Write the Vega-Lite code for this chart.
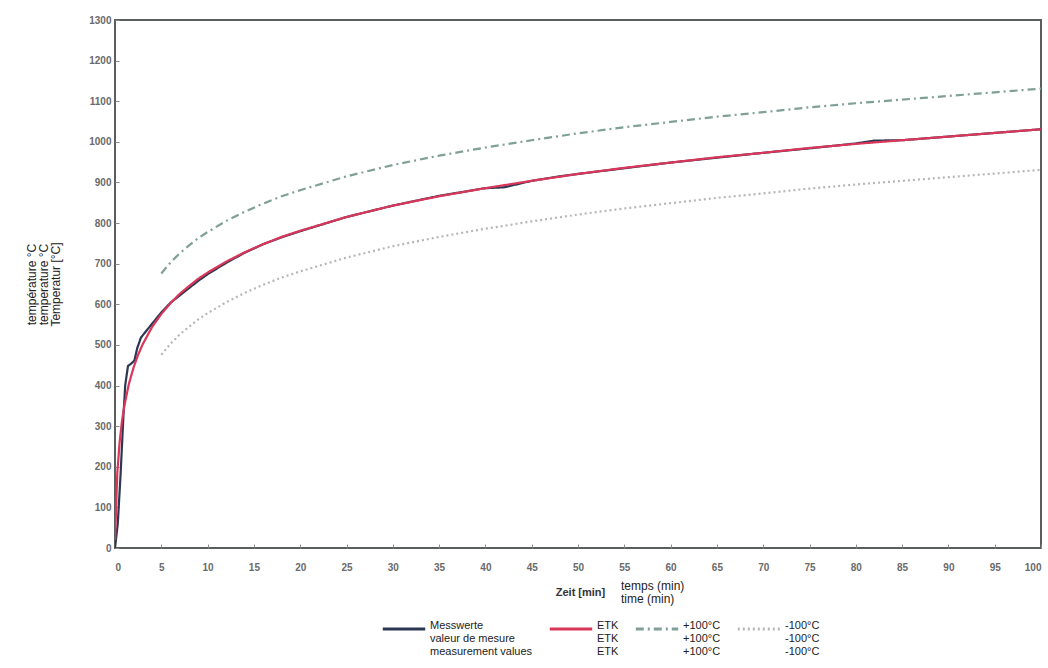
{
  "$schema": "https://vega.github.io/schema/vega-lite/v6.json",
  "autosize": {"type": "none"},
  "width": 926,
  "height": 528,
  "padding": {"left": 115, "top": 20, "right": 7, "bottom": 120},
  "background": "white",
  "config": {
    "font": "Liberation Sans",
    "view": {"stroke": "#5a5f5c", "strokeWidth": 2},
    "axis": {"grid": false, "domain": false, "labelFont": "Liberation Sans", "labelFontWeight": "bold", "labelColor": "#6a6a6a", "labelFontSize": 10, "tickColor": "#8a8a8a", "tickSize": -4}
  },
  "title": {
    "text": ["temps (min)", "time (min)"],
    "orient": "top",
    "anchor": "start",
    "frame": "group",
    "dx": 506,
    "dy": 595,
    "fontSize": 12,
    "fontWeight": "normal",
    "color": "#222",
    "font": "Liberation Sans",
    "lineHeight": 13
  },
  "datasets": {
    "curves": [
      {"s": "Messwerte", "t": 0, "v": 0},
      {"s": "Messwerte", "t": 0.3, "v": 60},
      {"s": "Messwerte", "t": 0.6, "v": 180},
      {"s": "Messwerte", "t": 0.9, "v": 320},
      {"s": "Messwerte", "t": 1.1, "v": 400},
      {"s": "Messwerte", "t": 1.4, "v": 448},
      {"s": "Messwerte", "t": 1.8, "v": 455},
      {"s": "Messwerte", "t": 2.1, "v": 462},
      {"s": "Messwerte", "t": 2.4, "v": 492},
      {"s": "Messwerte", "t": 2.8, "v": 518},
      {"s": "Messwerte", "t": 3.5, "v": 538},
      {"s": "Messwerte", "t": 4, "v": 552},
      {"s": "Messwerte", "t": 5, "v": 580},
      {"s": "Messwerte", "t": 6, "v": 604},
      {"s": "Messwerte", "t": 7, "v": 622},
      {"s": "Messwerte", "t": 8, "v": 640},
      {"s": "Messwerte", "t": 9, "v": 658},
      {"s": "Messwerte", "t": 10, "v": 674},
      {"s": "Messwerte", "t": 12, "v": 702},
      {"s": "Messwerte", "t": 14, "v": 727},
      {"s": "Messwerte", "t": 16, "v": 748},
      {"s": "Messwerte", "t": 18, "v": 765},
      {"s": "Messwerte", "t": 20, "v": 780},
      {"s": "Messwerte", "t": 25, "v": 815},
      {"s": "Messwerte", "t": 30, "v": 843},
      {"s": "Messwerte", "t": 35, "v": 867},
      {"s": "Messwerte", "t": 40, "v": 886},
      {"s": "Messwerte", "t": 42, "v": 888},
      {"s": "Messwerte", "t": 45, "v": 904},
      {"s": "Messwerte", "t": 48, "v": 915},
      {"s": "Messwerte", "t": 50, "v": 921},
      {"s": "Messwerte", "t": 55, "v": 935},
      {"s": "Messwerte", "t": 60, "v": 949},
      {"s": "Messwerte", "t": 65, "v": 961},
      {"s": "Messwerte", "t": 70, "v": 973},
      {"s": "Messwerte", "t": 75, "v": 984},
      {"s": "Messwerte", "t": 80, "v": 996},
      {"s": "Messwerte", "t": 82, "v": 1003},
      {"s": "Messwerte", "t": 85, "v": 1004},
      {"s": "Messwerte", "t": 90, "v": 1013},
      {"s": "Messwerte", "t": 95, "v": 1022},
      {"s": "Messwerte", "t": 100, "v": 1031},

      {"s": "ETK", "t": 0, "v": 20},
      {"s": "ETK", "t": 0.25, "v": 185},
      {"s": "ETK", "t": 0.5, "v": 261},
      {"s": "ETK", "t": 0.75, "v": 312},
      {"s": "ETK", "t": 1, "v": 349},
      {"s": "ETK", "t": 1.5, "v": 404},
      {"s": "ETK", "t": 2, "v": 444},
      {"s": "ETK", "t": 2.5, "v": 476},
      {"s": "ETK", "t": 3, "v": 502},
      {"s": "ETK", "t": 4, "v": 544},
      {"s": "ETK", "t": 5, "v": 576},
      {"s": "ETK", "t": 6, "v": 603},
      {"s": "ETK", "t": 7, "v": 626},
      {"s": "ETK", "t": 8, "v": 645},
      {"s": "ETK", "t": 9, "v": 663},
      {"s": "ETK", "t": 10, "v": 678},
      {"s": "ETK", "t": 12, "v": 705},
      {"s": "ETK", "t": 14, "v": 728},
      {"s": "ETK", "t": 16, "v": 748},
      {"s": "ETK", "t": 18, "v": 766},
      {"s": "ETK", "t": 20, "v": 781},
      {"s": "ETK", "t": 25, "v": 815},
      {"s": "ETK", "t": 30, "v": 843},
      {"s": "ETK", "t": 35, "v": 866},
      {"s": "ETK", "t": 40, "v": 886},
      {"s": "ETK", "t": 45, "v": 904},
      {"s": "ETK", "t": 50, "v": 921},
      {"s": "ETK", "t": 55, "v": 936},
      {"s": "ETK", "t": 60, "v": 949},
      {"s": "ETK", "t": 65, "v": 962},
      {"s": "ETK", "t": 70, "v": 973},
      {"s": "ETK", "t": 75, "v": 985},
      {"s": "ETK", "t": 80, "v": 995},
      {"s": "ETK", "t": 85, "v": 1004},
      {"s": "ETK", "t": 90, "v": 1013},
      {"s": "ETK", "t": 95, "v": 1022},
      {"s": "ETK", "t": 100, "v": 1031},

      {"s": "+100°C", "t": 5, "v": 676},
      {"s": "+100°C", "t": 6, "v": 703},
      {"s": "+100°C", "t": 7, "v": 726},
      {"s": "+100°C", "t": 8, "v": 745},
      {"s": "+100°C", "t": 9, "v": 763},
      {"s": "+100°C", "t": 10, "v": 778},
      {"s": "+100°C", "t": 12, "v": 805},
      {"s": "+100°C", "t": 14, "v": 828},
      {"s": "+100°C", "t": 16, "v": 848},
      {"s": "+100°C", "t": 18, "v": 866},
      {"s": "+100°C", "t": 20, "v": 881},
      {"s": "+100°C", "t": 25, "v": 915},
      {"s": "+100°C", "t": 30, "v": 943},
      {"s": "+100°C", "t": 35, "v": 966},
      {"s": "+100°C", "t": 40, "v": 986},
      {"s": "+100°C", "t": 45, "v": 1004},
      {"s": "+100°C", "t": 50, "v": 1021},
      {"s": "+100°C", "t": 55, "v": 1036},
      {"s": "+100°C", "t": 60, "v": 1049},
      {"s": "+100°C", "t": 65, "v": 1062},
      {"s": "+100°C", "t": 70, "v": 1073},
      {"s": "+100°C", "t": 75, "v": 1085},
      {"s": "+100°C", "t": 80, "v": 1095},
      {"s": "+100°C", "t": 85, "v": 1104},
      {"s": "+100°C", "t": 90, "v": 1113},
      {"s": "+100°C", "t": 95, "v": 1122},
      {"s": "+100°C", "t": 100, "v": 1131},

      {"s": "-100°C", "t": 5, "v": 476},
      {"s": "-100°C", "t": 6, "v": 503},
      {"s": "-100°C", "t": 7, "v": 526},
      {"s": "-100°C", "t": 8, "v": 545},
      {"s": "-100°C", "t": 9, "v": 563},
      {"s": "-100°C", "t": 10, "v": 578},
      {"s": "-100°C", "t": 12, "v": 605},
      {"s": "-100°C", "t": 14, "v": 628},
      {"s": "-100°C", "t": 16, "v": 648},
      {"s": "-100°C", "t": 18, "v": 666},
      {"s": "-100°C", "t": 20, "v": 681},
      {"s": "-100°C", "t": 25, "v": 715},
      {"s": "-100°C", "t": 30, "v": 743},
      {"s": "-100°C", "t": 35, "v": 766},
      {"s": "-100°C", "t": 40, "v": 786},
      {"s": "-100°C", "t": 45, "v": 804},
      {"s": "-100°C", "t": 50, "v": 821},
      {"s": "-100°C", "t": 55, "v": 836},
      {"s": "-100°C", "t": 60, "v": 849},
      {"s": "-100°C", "t": 65, "v": 862},
      {"s": "-100°C", "t": 70, "v": 873},
      {"s": "-100°C", "t": 75, "v": 885},
      {"s": "-100°C", "t": 80, "v": 895},
      {"s": "-100°C", "t": 85, "v": 904},
      {"s": "-100°C", "t": 90, "v": 913},
      {"s": "-100°C", "t": 95, "v": 922},
      {"s": "-100°C", "t": 100, "v": 931}
    ]
  },
  "data": {"name": "curves"},
  "mark": {"type": "line", "strokeWidth": 2.2, "clip": true},
  "encoding": {
    "x": {
      "field": "t", "type": "quantitative",
      "scale": {"domain": [0, 100], "nice": false},
      "axis": {"values": [0,5,10,15,20,25,30,35,40,45,50,55,60,65,70,75,80,85,90,95,100], "title": "Zeit [min]", "titleFontWeight": "bold", "titleFontSize": 11, "titleColor": "#333", "titlePadding": 14, "titleX": 465, "titleAlign": "center", "labelPadding": 18}
    },
    "y": {
      "field": "v", "type": "quantitative",
      "scale": {"domain": [0, 1300], "nice": false},
      "axis": {"values": [0,100,200,300,400,500,600,700,800,900,1000,1100,1200,1300], "format": "d", "title": ["température °C", "temperature °C", "Temperatur [°C]"], "titleFontWeight": "normal", "titleFontSize": 12, "titleColor": "#222", "titlePadding": 26, "titleLineHeight": 12, "labelPadding": 8}
    },
    "color": {
      "field": "s", "type": "nominal",
      "scale": {"domain": ["Messwerte", "ETK", "+100°C", "-100°C"], "range": ["#2c3752", "#d9365a", "#7f9f98", "#b3b8b3"]},
      "legend": {
        "title": null,
        "orient": "none",
        "legendX": 266,
        "legendY": 586,
        "direction": "horizontal",
        "symbolType": "stroke",
        "symbolSize": 1800,
        "symbolStrokeWidth": 3,
        "labelFontSize": 11,
        "labelColor": "#222",
        "labelFont": "Liberation Sans",
        "labelBaseline": "alphabetic",
        "labelLineHeight": 16,
        "labelOffset": 3,
        "columnPadding": 10,
        "labelLimit": 200,
        "labelExpr": "datum.label == 'Messwerte' ? ['Messwerte', 'valeur de mesure', 'measurement values'] : datum.label == 'ETK' ? ['ETK', 'ETK', 'ETK'] : datum.label == '+100°C' ? ['+100°C', '+100°C', '+100°C'] : ['-100°C', '-100°C', '-100°C']"
      }
    },
    "strokeDash": {
      "field": "s", "type": "nominal",
      "scale": {"domain": ["Messwerte", "ETK", "+100°C", "-100°C"], "range": [[1, 0], [1, 0], [8, 4, 2, 4], [2, 3]]},
      "legend": null
    },
    "order": {"field": "s", "type": "nominal"}
  }
}
